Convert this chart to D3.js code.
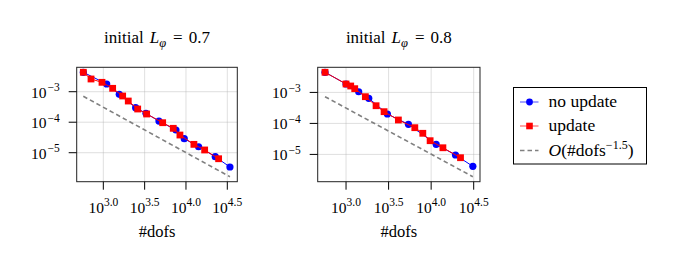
<!DOCTYPE html>
<html>
<head>
<meta charset="utf-8">
<script src="https://cdn.jsdelivr.net/npm/d3@7"></script>
<style>
  body { margin: 0; background: #fff; }
</style>
</head>
<body>
<svg id="chart" width="676" height="270" font-family="'Liberation Serif', 'Times New Roman', serif"></svg>
<script>
// ---- data ----
var titles = ['0.7', '0.8'];

// panel 1: initial L_phi = 0.7
var dofsNoUpd1 = [573, 1099, 1560, 2460, 3281, 4710, 7568, 9528, 14223, 22594, 34041];
var errNoUpd1  = [4.33e-3, 1.79e-3, 8.22e-4, 2.99e-4, 1.96e-4, 1.09e-4, 5.55e-5, 2.88e-5, 1.57e-5, 7.40e-6, 3.40e-6];
var dofsUpd1 = [573, 710, 964, 1297, 1714, 2004, 2606, 3342, 5224, 7015, 8453, 12474, 16827, 24831];
var errUpd1  = [4.33e-3, 2.61e-3, 2.03e-3, 1.29e-3, 7.23e-4, 4.95e-4, 2.71e-4, 1.86e-4, 9.64e-5, 6.31e-5, 3.80e-5, 1.88e-5, 1.23e-5, 6.35e-6];
var refDofs1 = [573, 34041];
var refErr1  = [7.08e-4, 1.63e-6];

// panel 2: initial L_phi = 0.8
var dofsNoUpd2 = [566, 1000, 1409, 1849, 3062, 5408, 11455, 19320, 30903];
var errNoUpd2  = [4.46e-3, 1.87e-3, 1.05e-3, 6.46e-4, 2.01e-4, 9.35e-5, 2.12e-5, 9.57e-6, 4.13e-6];
var dofsUpd2 = [566, 1000, 1135, 1265, 1687, 2254, 2799, 4121, 6427, 7980, 9727, 13740, 22131];
var errUpd2  = [4.46e-3, 1.87e-3, 1.61e-3, 1.32e-3, 7.28e-4, 3.72e-4, 2.39e-4, 1.29e-4, 7.28e-5, 4.80e-5, 2.77e-5, 1.64e-5, 7.83e-6];
var refDofs2 = [566, 30903];
var refErr2  = [7.28e-4, 1.91e-6];

var xTickExp = ['3.0', '3.5', '4.0', '4.5'];
var yTickExp = ['3', '4', '5'];
var legendLabels = ['no update', 'update'];

var svg = d3.select('#chart');

var blue = '#0000ff', red = '#ff0000', gray = '#808080';

function zip(xs, ys) {
    return xs.map(function(x, i) { return { x: x, y: ys[i] }; });
}

function drawPanel(opt) {
    var x = d3.scaleLog().domain(opt.xDomain).range([opt.left, opt.right]);
    var y = d3.scaleLog().domain(opt.yDomain).range([opt.top, opt.bottom]);
    var g = svg.append('g');

    // grid
    g.selectAll('.gx').data(xTickExp).enter().append('line')
        .attr('x1', function(d) { return x(Math.pow(10, +d)); })
        .attr('x2', function(d) { return x(Math.pow(10, +d)); })
        .attr('y1', opt.top).attr('y2', opt.bottom)
        .attr('stroke', '#b0b0b0').attr('stroke-opacity', 0.5).attr('stroke-width', 0.8);
    g.selectAll('.gy').data(yTickExp).enter().append('line')
        .attr('y1', function(d) { return y(Math.pow(10, -d)); })
        .attr('y2', function(d) { return y(Math.pow(10, -d)); })
        .attr('x1', opt.left).attr('x2', opt.right)
        .attr('stroke', '#b0b0b0').attr('stroke-opacity', 0.5).attr('stroke-width', 0.8);

    var line = d3.line().x(function(d) { return x(d.x); }).y(function(d) { return y(d.y); });

    // reference line
    g.append('path').attr('d', line(zip(opt.refDofs, opt.refErr)))
        .attr('fill', 'none').attr('stroke', gray).attr('stroke-width', 1.6)
        .attr('stroke-dasharray', '4.5,3');

    // no update
    var nu = zip(opt.dofsNoUpd, opt.errNoUpd);
    g.append('path').attr('d', line(nu))
        .attr('fill', 'none').attr('stroke', blue).attr('stroke-width', 1);
    g.selectAll('.pb').data(nu).enter().append('circle')
        .attr('cx', function(d) { return x(d.x); })
        .attr('cy', function(d) { return y(d.y); })
        .attr('r', 3.6).attr('fill', blue);

    // update
    var up = zip(opt.dofsUpd, opt.errUpd);
    g.append('path').attr('d', line(up))
        .attr('fill', 'none').attr('stroke', red).attr('stroke-width', 1);
    g.selectAll('.pr').data(up).enter().append('rect')
        .attr('x', function(d) { return x(d.x) - 3.4; })
        .attr('y', function(d) { return y(d.y) - 3.4; })
        .attr('width', 6.8).attr('height', 6.8).attr('fill', red);

    // frame
    g.append('rect').attr('x', opt.left).attr('y', opt.top)
        .attr('width', opt.right - opt.left).attr('height', opt.bottom - opt.top)
        .attr('fill', 'none').attr('stroke', '#222').attr('stroke-width', 1);

    // x ticks
    var xt = g.selectAll('.xt').data(xTickExp).enter().append('g')
        .attr('transform', function(d) { return 'translate(' + x(Math.pow(10, +d)) + ',' + opt.bottom + ')'; });
    xt.append('line').attr('y1', 0).attr('y2', 8).attr('stroke', '#000').attr('stroke-width', 1);
    var xl = xt.append('text').attr('y', 31.6).attr('text-anchor', 'middle').style('font-size', '15.5px');
    xl.append('tspan').text('10');
    xl.append('tspan').attr('dy', -6.8).style('font-size', '11.5px').text(function(d) { return d; });

    // y ticks
    var yt = g.selectAll('.yt').data(yTickExp).enter().append('g')
        .attr('transform', function(d) { return 'translate(' + opt.left + ',' + y(Math.pow(10, -d)) + ')'; });
    yt.append('line').attr('x1', 0).attr('x2', -8).attr('stroke', '#000').attr('stroke-width', 1);
    var yl = yt.append('text').attr('x', -17).attr('y', 6).attr('text-anchor', 'end').style('font-size', '15.5px');
    yl.append('tspan').text('10');
    yl.append('tspan').attr('dy', -6.6).attr('dx', 1).style('font-size', '11.5px').text(function(d) { return '\u2212' + d; });

    // axis label
    g.append('text').attr('x', (opt.left + opt.right) / 2).attr('y', 236.5)
        .attr('text-anchor', 'middle').style('font-size', '16.5px').text('#dofs');

    // title
    var t = g.append('text').attr('x', (opt.left + opt.right) / 2).attr('y', 43)
        .attr('text-anchor', 'middle').style('font-size', '17px');
    t.append('tspan').text('initial');
    t.append('tspan').attr('dx', 6).style('font-style', 'italic').text('L');
    t.append('tspan').attr('dy', 4).style('font-style', 'italic').style('font-size', '12.5px').text('\u03c6');
    t.append('tspan').attr('dy', -4).attr('dx', 7).text('=');
    t.append('tspan').attr('dx', 6).text(opt.title);
}

drawPanel({
    left: 76.7, right: 237.3, top: 67.3, bottom: 181.7,
    xDomain: [Math.pow(10, 2.678), Math.pow(10, 4.621)],
    yDomain: [Math.pow(10, -2.2), Math.pow(10, -5.95)],
    dofsNoUpd: dofsNoUpd1, errNoUpd: errNoUpd1,
    dofsUpd: dofsUpd1, errUpd: errUpd1,
    refDofs: refDofs1, refErr: refErr1, title: titles[0]
});
drawPanel({
    left: 317.7, right: 480, top: 67.3, bottom: 181.7,
    xDomain: [Math.pow(10, 2.667), Math.pow(10, 4.574)],
    yDomain: [Math.pow(10, -2.19), Math.pow(10, -5.88)],
    dofsNoUpd: dofsNoUpd2, errNoUpd: errNoUpd2,
    dofsUpd: dofsUpd2, errUpd: errUpd2,
    refDofs: refDofs2, refErr: refErr2, title: titles[1]
});

// legend
var lg = svg.append('g').attr('transform', 'translate(513.5,87.5)');
lg.append('rect').attr('width', 133).attr('height', 76.5)
    .attr('fill', '#fff').attr('stroke', '#000').attr('stroke-width', 1);
var rows = [14.5, 38.5, 63];
// no update
lg.append('line').attr('x1', 6.5).attr('x2', 25).attr('y1', rows[0]).attr('y2', rows[0])
    .attr('stroke', blue).attr('stroke-opacity', 0.6).attr('stroke-width', 1.2);
lg.append('circle').attr('cx', 16).attr('cy', rows[0]).attr('r', 3.4).attr('fill', blue);
// update
lg.append('line').attr('x1', 6.5).attr('x2', 25).attr('y1', rows[1]).attr('y2', rows[1])
    .attr('stroke', red).attr('stroke-opacity', 0.6).attr('stroke-width', 1.2);
lg.append('rect').attr('x', 12.7).attr('y', rows[1] - 3.3).attr('width', 6.6).attr('height', 6.6).attr('fill', red);
// reference
lg.append('line').attr('x1', 6.5).attr('x2', 25).attr('y1', rows[2]).attr('y2', rows[2])
    .attr('stroke', gray).attr('stroke-width', 1.6).attr('stroke-dasharray', '4.5,3');

lg.selectAll('.lt').data(legendLabels).enter().append('text')
    .attr('x', 35).attr('y', function(d, i) { return rows[i] + 5; })
    .style('font-size', '17.5px').text(function(d) { return d; });
var rt = lg.append('text').attr('x', 35).attr('y', rows[2] + 5).style('font-size', '17.5px');
rt.append('tspan').style('font-style', 'italic').text('O');
rt.append('tspan').text('(#dofs');
rt.append('tspan').attr('dy', -7).style('font-size', '12px').text('\u22121.5');
rt.append('tspan').attr('dy', 7).text(')');
</script>
</body>
</html>
